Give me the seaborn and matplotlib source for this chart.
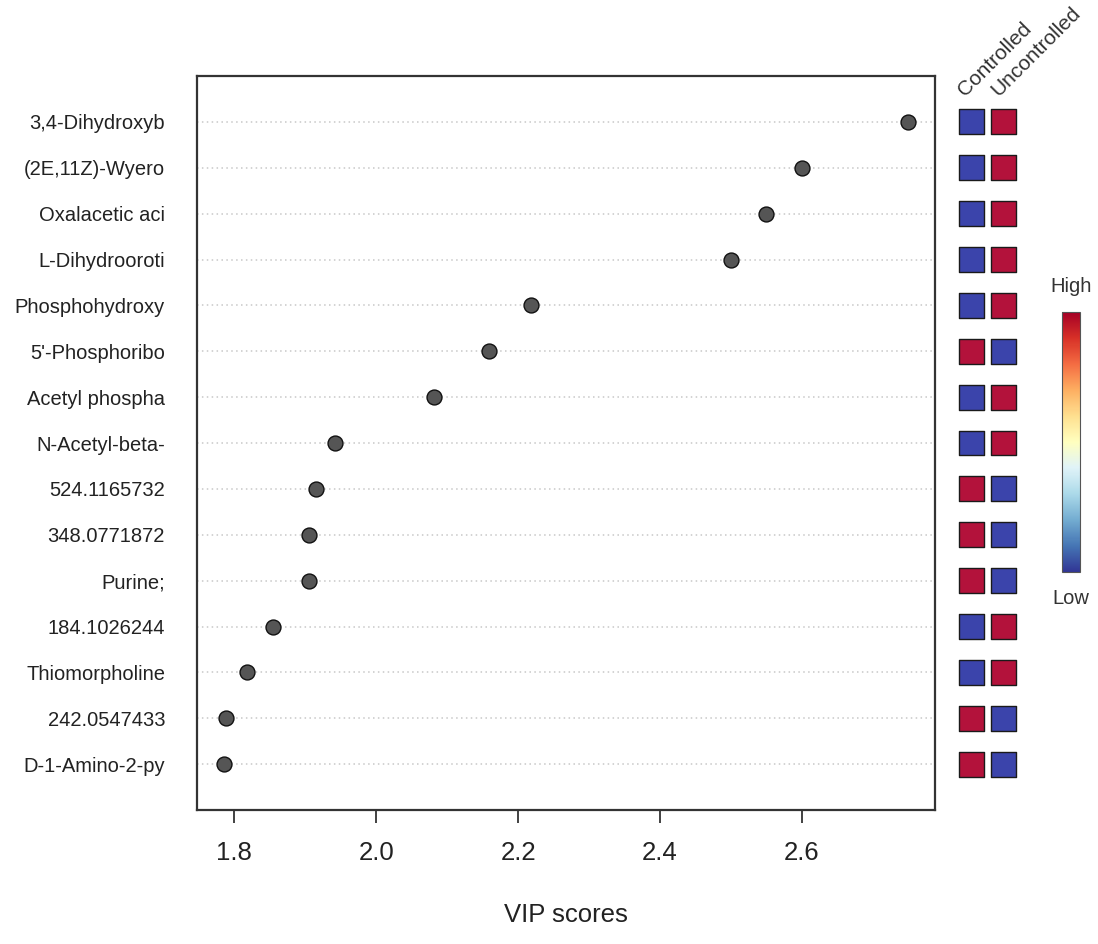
import numpy as np
import pandas as pd
import matplotlib
matplotlib.use("Agg")
import matplotlib.pyplot as plt
import seaborn as sns

# ---- data ----
features = ["3,4-Dihydroxyb", "(2E,11Z)-Wyero", "Oxalacetic aci", "L-Dihydrooroti",
            "Phosphohydroxy", "5'-Phosphoribo", "Acetyl phospha", "N-Acetyl-beta-",
            "524.1165732", "348.0771872", "Purine;", "184.1026244",
            "Thiomorpholine", "242.0547433", "D-1-Amino-2-py"]
vip = [2.749, 2.600, 2.549, 2.500, 2.218, 2.159, 2.082, 1.942,
       1.915, 1.906, 1.906, 1.855, 1.818, 1.789, 1.786]
groups = ["Controlled", "Uncontrolled"]
controlled = ["Low", "Low", "Low", "Low", "Low", "High", "Low", "Low",
              "High", "High", "High", "Low", "Low", "High", "High"]
uncontrolled = ["High", "High", "High", "High", "High", "Low", "High", "High",
                "Low", "Low", "Low", "High", "High", "Low", "Low"]
xticks = [1.8, 2.0, 2.2, 2.4, 2.6]

sns.set_theme(style="white")
plt.rcParams["font.family"] = ["Liberation Sans", "DejaVu Sans"]

n = len(features)
ypos = np.arange(n, 0, -1)
df = pd.DataFrame({"feature": features, "vip": vip, "y": ypos})

fig = plt.figure(figsize=(10.98, 9.44), dpi=100)
ax = fig.add_axes([197/1098, 1-810/944, (935-197)/1098, (810-76)/944])

xmin, xmax = min(vip), max(vip)
rng = xmax - xmin
xl = (xmin - 0.04*rng, xmax + 0.04*rng)
ax.hlines(df["y"], xl[0], xl[1], colors="#c8c8c8", linestyles=(0, (1, 2.2)), linewidth=1.1, zorder=1)
sns.scatterplot(data=df, x="vip", y="y", ax=ax, s=115, color="#555555",
                edgecolor="#111111", linewidth=1.0, zorder=3, legend=False)
ax.set_xlim(*xl)
ax.set_ylim(0, n + 1)
ax.set_yticks(ypos)
ax.set_yticklabels(features, fontsize=14.5, color="#222222")
ax.set_xticks(xticks)
ax.set_xticklabels([f"{t:.1f}" for t in xticks], fontsize=18.5, color="#222222")
ax.tick_params(axis="y", length=0, pad=23)
ax.tick_params(axis="x", length=9, width=1.3, color="#333333", pad=13, bottom=True, direction="out")
ax.set_xlabel("VIP scores", fontsize=18.5, color="#222222", labelpad=28)
ax.set_ylabel("")
for sp in ax.spines.values():
    sp.set_color("#333333")
    sp.set_linewidth(1.6)

# ---- side heatmap ----
ax2 = fig.add_axes([955/1098, 1-810/944, 65/1098, (810-76)/944])
hm = pd.DataFrame({
    "col": [0]*n + [1]*n,
    "y": list(ypos) + list(ypos),
    "level": controlled + uncontrolled,
})
sns.scatterplot(data=hm, x="col", y="y", hue="level", ax=ax2, marker="s", s=320,
                palette={"High": "#b3123b", "Low": "#3b44ab"},
                edgecolor="#1a1a1a", linewidth=1.0, legend=False)
ax2.set_xlim(-0.5, 1.5)
ax2.set_ylim(0, n + 1)
ax2.axis("off")
for i, g in enumerate(groups):
    ax2.text(i - 0.3, n + 0.62, g, rotation=45, rotation_mode="anchor",
             ha="left", va="center", fontsize=15, color="#333333", clip_on=False)

# ---- colorbar ----
cax = fig.add_axes([1062/1098, 1-572/944, 18/1098, 260/944])
sm = matplotlib.cm.ScalarMappable(cmap="RdYlBu_r", norm=matplotlib.colors.Normalize(0, 1))
cb = fig.colorbar(sm, cax=cax)
cb.set_ticks([])
cb.outline.set_edgecolor("#555555")
cb.outline.set_linewidth(0.8)
fig.text(1071/1098, 1-287/944, "High", ha="center", va="center", fontsize=14.5, color="#333333")
fig.text(1071/1098, 1-598/944, "Low", ha="center", va="center", fontsize=14.5, color="#333333")

fig.savefig("out.png", dpi=100, facecolor="white")
